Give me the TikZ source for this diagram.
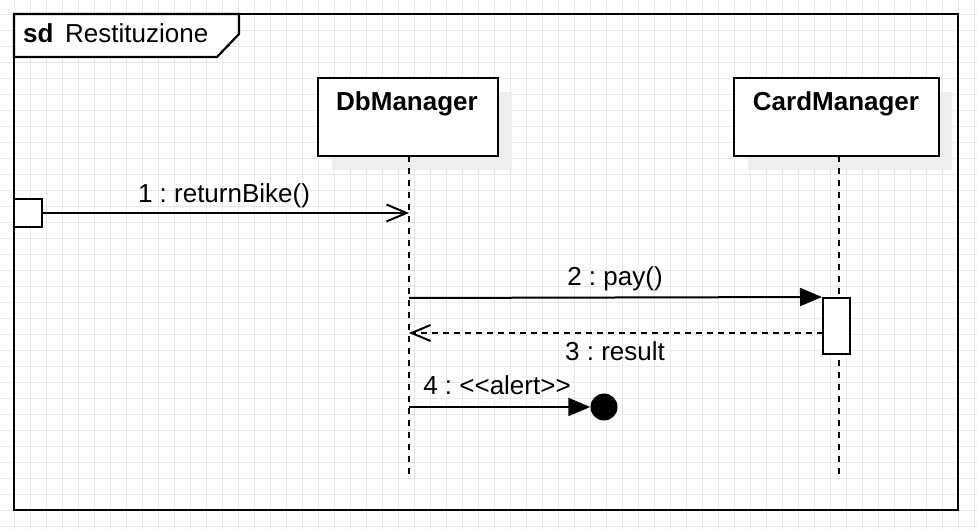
\documentclass[tikz,border=0pt]{standalone}
\usepackage{fontspec}
\setmainfont{Liberation Sans}
\usetikzlibrary{arrows.meta}
\definecolor{gridc}{RGB}{232,232,232}
\definecolor{shadowc}{RGB}{238,238,238}
\frenchspacing
\tikzset{
  lbl/.style={anchor=base, inner sep=0pt, font=\fontsize{26}{31}\selectfont},
  lifebox/.style={draw=black, line width=2pt, fill=white, minimum height=78pt, inner sep=0pt},
  shadowbox/.style={fill=shadowc, draw=none},
  lifeline/.style={line width=2pt, dash pattern=on 6pt off 6pt},
  callmsg/.style={line width=2pt, -{Triangle[length=22pt,width=18pt]}},
  foundmsg/.style={line width=2pt, -{Straight Barb[length=20pt,width=17pt,line width=2pt]}},
  retmsg/.style={line width=2pt, dash pattern=on 6pt off 5pt, -{Straight Barb[length=19pt,width=16pt,line width=2pt]}},
  actbox/.style={draw=black, line width=2pt, fill=white, minimum width=27pt, minimum height=56pt, inner sep=0pt}
}
\begin{document}
\begin{tikzpicture}[x=1pt,y=-1pt]
\useasboundingbox (0,0) rectangle (978,529);
\fill[white] (0,0) rectangle (978,529);
% grid
\foreach \k in {0,...,60} { \draw[gridc, line width=1pt] ({14.7+16*\k},0) -- ({14.7+16*\k},529); }
\foreach \k in {0,...,32} { \draw[gridc, line width=1pt] (0,{14.7+16*\k}) -- (978,{14.7+16*\k}); }
% frame
\draw[line width=2.2pt] (14,14) rectangle (958,510);
\draw[line width=2.2pt, fill=white] (14,14) -- (239,14) -- (239,34) -- (217,57) -- (14,57) -- cycle;
\node[lbl, anchor=base west] (sdk) at (23,43) {\bfseries sd};
\node[lbl, anchor=base west] (sdname) at (65,43) {Restituzione};
% shadows
\fill[shadowc] (332,92) rectangle (512,170);
\fill[shadowc] (748,92) rectangle (952,170);
% lifelines
\coordinate (dbtop) at (409,156);
\coordinate (dbbot) at (409,476);
\coordinate (cmtop) at (839,156);
\coordinate (cmbot) at (839,476);
\draw[lifeline] (dbtop) -- (dbbot);
\draw[lifeline] (cmtop) -- (cmbot);
% boxes
\node[lifebox, minimum width=180pt] (db) at (408,117) {};
\node[lifebox, minimum width=205pt] (cm) at (836,117) {};
\node[lbl, font=\fontsize{26}{31}\selectfont\bfseries] (dbt) at (407,111) {DbManager};
\node[lbl, font=\fontsize{26}{31}\selectfont\bfseries] (cmt) at (836,111) {CardManager};
% found message
\node[draw=black, line width=2pt, fill=white, minimum width=28pt, minimum height=28pt, inner sep=0pt] (found) at (28,213) {};
\coordinate (db1) at (409,213);
\draw[foundmsg] (found.east) -- (db1);
\node[lbl] (m1) at (224,203) {1 : returnBike()};
% activation on CardManager
\node[actbox] (act) at (836.5,326) {};
\coordinate (db2) at (409,298);
\draw[callmsg] (db2) -- (act.north west);
\node[lbl] (m2) at (615,286) {2 : pay()};
\coordinate (actr) at (823,333);
\coordinate (db3) at (409,333);
\draw[retmsg] (actr) -- (db3);
\node[lbl] (m3) at (615,361) {3 : result};
% alert / lost message
\node[circle, fill=black, minimum size=27pt, inner sep=0pt] (lost) at (604,407) {};
\coordinate (db4) at (409,407);
\draw[callmsg] (db4) -- (lost.west);
\node[lbl] (m4) at (497,395) {4 : {<}{<}alert{>}{>}};
\end{tikzpicture}
\end{document}
